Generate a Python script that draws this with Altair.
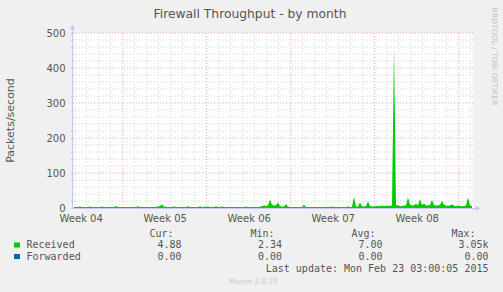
import altair as alt
import pandas as pd

# ---------------- data ----------------
received = [
    3, 3, 3, 4, 3, 3, 3, 3, 4, 3, 3, 3, 3, 3, 4, 3, 3, 3, 3, 3,
    3, 6, 3, 3, 3, 3, 3, 3, 3, 3, 3, 3, 5, 3, 3, 3, 3, 3, 3, 3,
    3, 3, 4, 6, 10, 4, 3, 3, 3, 3, 5, 3, 3, 3, 3, 3, 3, 5, 3, 3,
    3, 3, 3, 5, 3, 3, 4, 4, 3, 3, 3, 5, 3, 3, 5, 3, 3, 3, 3, 3,
    3, 3, 3, 3, 3, 3, 4, 3, 3, 3, 3, 3, 3, 3, 6, 7, 6, 8, 24, 9,
    7, 8, 16, 6, 4, 4, 11, 4, 3, 3, 3, 3, 3, 3, 3, 9, 3, 3, 3, 3,
    3, 3, 3, 3, 3, 3, 3, 3, 3, 4, 3, 3, 3, 3, 3, 3, 3, 4, 3, 3,
    32, 4, 4, 16, 5, 4, 6, 19, 6, 4, 4, 6, 6, 5, 7, 6, 6, 7, 6, 8,
    460, 8, 8, 5, 6, 7, 8, 30, 9, 7, 8, 13, 7, 26, 8, 13, 8, 7, 9, 23,
    8, 7, 7, 9, 21, 9, 7, 6, 8, 11, 6, 6, 7, 6, 5, 6, 7, 30, 8, 5,
]
forwarded = [0] * len(received)
first_sample_day = 2.94          # days since Monday of week 04
sample_step_day = 1 / 6          # 4-hour samples
week_labels = ["Week 04", "Week 05", "Week 06", "Week 07", "Week 08"]
week_centres = [3.5, 10.5, 17.5, 24.5, 31.5]
y_label_values = [0, 100, 200, 300, 400, 500]

series_names = ["Received", "Forwarded"]
series_colors = ["#00cc00", "#0066b3"]
stat_headers = ["Cur:", "Min:", "Avg:", "Max:"]
stats_received = ["4.88", "2.34", "7.00", "3.05k"]
stats_forwarded = ["0.00", "0.00", "0.00", "0.00"]
title_text = "Firewall Throughput - by month"
y_title = "Packets/second"
last_update = "Last update: Mon Feb 23 03:00:05 2015"
footer = "Munin 2.0.25"
side_text = "RRDTOOL / TOBI OETIKER"

# ---------------- layout ----------------
W, H = 400, 175
X0, Y0 = 73, 33
X_DOMAIN = [2.858, 36.19]
xs = alt.Scale(domain=X_DOMAIN, nice=False, zero=False)
ys = alt.Scale(domain=[0, 500], nice=False)
TXT = "#555555"
SANS = "DejaVu Sans"
MONO = "DejaVu Sans Mono"

days = [first_sample_day + i * sample_step_day for i in range(len(received))]
df = pd.DataFrame({"day": days, "received": received, "forwarded": forwarded})

minor_x = pd.DataFrame({"day": [d for d in range(3, 37) if d % 7 != 0]})
major_x = pd.DataFrame({"day": [d for d in range(7, 37, 7)]})
minor_y = pd.DataFrame({"v": [v for v in range(20, 500, 20) if v % 100 != 0]})
major_y = pd.DataFrame({"v": list(range(100, 501, 100))})

grid_minor = "#d4d4d4"
grid_major = "#f0a8a8"

label_expr = " : ".join(
    ["datum.value == %s ? '%s'" % (c, l) for c, l in zip(week_centres, week_labels)]) + " : ''"

x_axis = alt.Axis(values=week_centres, labelExpr=label_expr,
                  ticks=False, domain=False, grid=False, title=None,
                  labelFont=SANS, labelFontSize=10, labelColor=TXT, labelPadding=5,
                  labelFlush=False)
y_axis = alt.Axis(values=list(range(0, 501, 20)),
                  labelExpr="datum.value % 100 == 0 ? datum.label : ''",
                  ticks=True, tickSize=2, tickColor="#aaaaaa", domain=False, grid=False,
                  title=None, labelFont=SANS, labelFontSize=10, labelColor=TXT,
                  labelPadding=6)


def X(field):
    return alt.X(field, scale=xs, axis=x_axis, title=None)


def Y(field):
    return alt.Y(field, scale=ys, axis=y_axis, title=None)


layers = []
layers.append(alt.Chart(minor_x).mark_rule(color=grid_minor, strokeDash=[1, 2], strokeWidth=1)
              .encode(x=X("day:Q")))
layers.append(alt.Chart(minor_y).mark_rule(color=grid_minor, strokeDash=[1, 2], strokeWidth=1)
              .encode(y=Y("v:Q")))
layers.append(alt.Chart(major_x).mark_rule(color=grid_major, strokeDash=[1, 2], strokeWidth=1)
              .encode(x=X("day:Q")))
layers.append(alt.Chart(major_y).mark_rule(color=grid_major, strokeDash=[1, 2], strokeWidth=1)
              .encode(y=Y("v:Q")))
layers.append(alt.Chart(df).mark_line(color=series_colors[1], strokeWidth=1)
              .encode(x=X("day:Q"), y=Y("forwarded:Q")))
layers.append(alt.Chart(df).mark_area(color=series_colors[0], opacity=1, interpolate="linear")
              .encode(x=X("day:Q"), y=Y("received:Q")))

axis_col = "#c4c8f4"
one = pd.DataFrame({"t": [""]})
layers.append(alt.Chart(one).mark_rule(color=axis_col, strokeWidth=1)
              .encode(x=alt.value(-0.5), y=alt.value(H + 1), y2=alt.value(-6)))
layers.append(alt.Chart(one).mark_rule(color=axis_col, strokeWidth=1)
              .encode(x=alt.value(-1), x2=alt.value(W + 5), y=alt.value(H + 0.5)))
layers.append(alt.Chart(one).mark_point(shape="triangle-up", filled=True, color=axis_col, size=28, opacity=1)
              .encode(x=alt.value(-0.5), y=alt.value(-6)))
layers.append(alt.Chart(one).mark_point(shape="triangle-right", filled=True, color=axis_col, size=28, opacity=1)
              .encode(x=alt.value(W + 5), y=alt.value(H + 0.5)))


def txt(text, x, y, size, color=TXT, align="left", font=SANS, angle=0):
    kw = dict(font=font, fontSize=size, color=color, align=align, baseline="middle")
    if angle:
        kw["angle"] = angle
    return (alt.Chart(pd.DataFrame({"t": [text]})).mark_text(**kw)
            .encode(x=alt.value(x - X0), y=alt.value(y - Y0), text="t:N"))


layers.append(txt(title_text, 250, 13.5, 12.3, align="center"))
layers.append(txt(y_title, 11, 120.5, 11, align="center", angle=270))
layers.append(txt(side_text, 494, 56.5, 7.6, color="#c4c4c4", align="center", angle=90))

head_x = [173.5, 274.5, 375.5, 475.5]
val_x = [181.5, 282, 382.5, 488.5]
for h, x in zip(stat_headers, head_x):
    layers.append(txt(h, x, 233.5, 10, align="right", font=MONO))
for row_y, name, col, stats in [(245, series_names[0], series_colors[0], stats_received),
                                 (256.5, series_names[1], series_colors[1], stats_forwarded)]:
    layers.append(alt.Chart(pd.DataFrame({"t": [name]})).mark_rect(color=col)
                  .encode(x=alt.value(14 - X0), x2=alt.value(20 - X0),
                          y=alt.value(row_y - 2.5 - Y0), y2=alt.value(row_y + 2.5 - Y0)))
    layers.append(txt(name, 26.5, row_y, 10, font=MONO))
    for s, x in zip(stats, val_x):
        layers.append(txt(s, x, row_y, 10, align="right", font=MONO))
layers.append(txt(last_update, 488.5, 268.8, 10, align="right", font=MONO))
layers.append(txt(footer, 253.5, 281.7, 7.5, color="#c8c8c8", align="center"))

chart = (alt.layer(*layers)
         .properties(width=W, height=H,
                     autosize=alt.AutoSizeParams(type="none"),
                     padding={"left": X0, "top": Y0, "right": 503 - X0 - W, "bottom": 292 - Y0 - H},
                     background="#f0f0f0")
         .configure_view(fill="white", strokeWidth=0))

chart.save("out.html", embed_options={"renderer": "svg", "actions": False})
